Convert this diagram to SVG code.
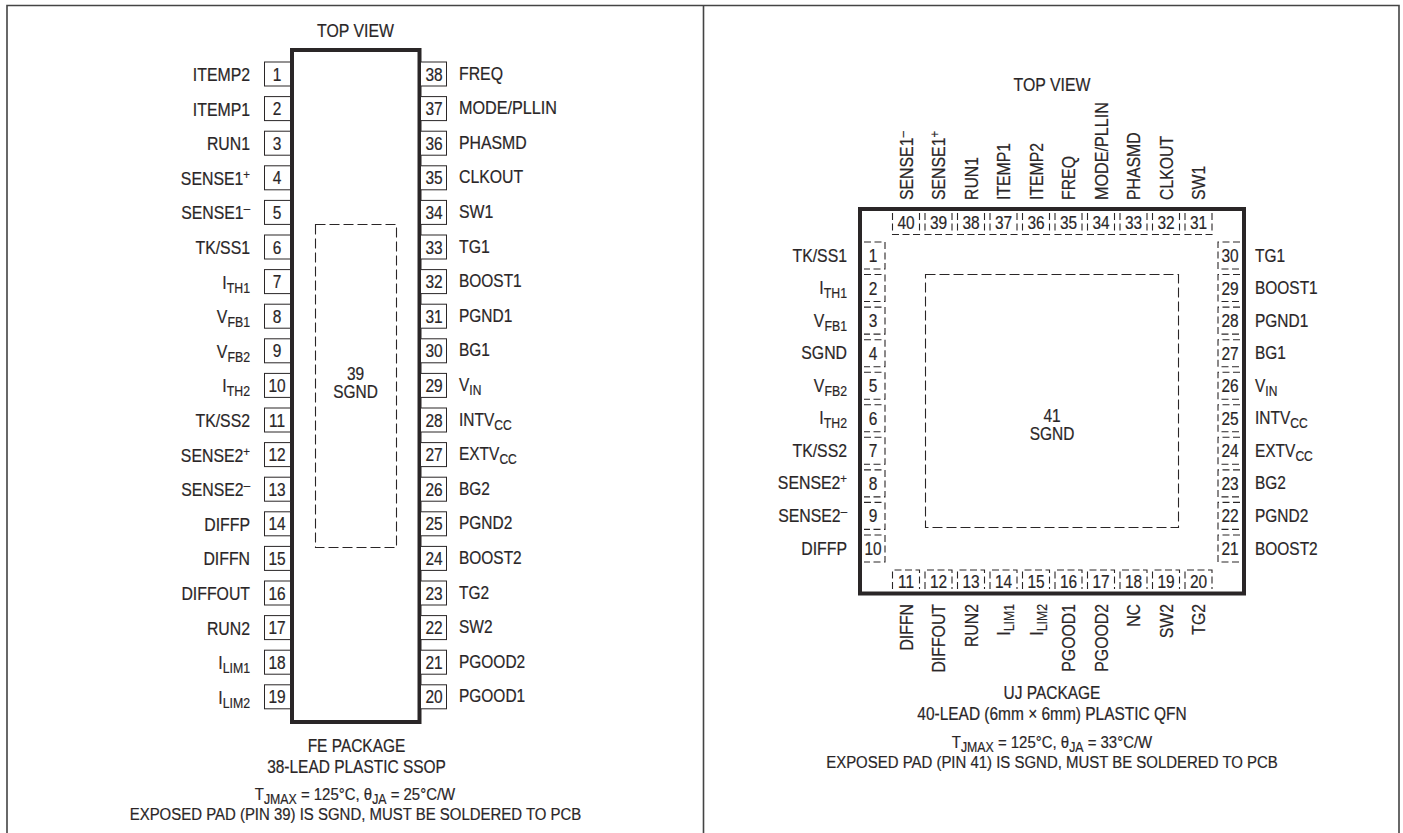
<svg xmlns="http://www.w3.org/2000/svg" width="1403" height="833" viewBox="0 0 1403 833">
<style>
text{font-family:"Liberation Sans",Arial,sans-serif;font-size:18px;fill:#2a2627;stroke:#2a2627;stroke-width:.2}
.e{text-anchor:end}.m{text-anchor:middle}
.sub{font-size:14px}.sup{font-size:13px}.f{font-size:17px}
.pin{fill:#fff;stroke:#2a2627;stroke-width:1}
.dp{fill:none;stroke:#2a2627;stroke-width:1.1;stroke-dasharray:7 3.5}
.pad{fill:none;stroke:#2a2627;stroke-width:1.1;stroke-dasharray:10 4}
.body{fill:#fff;stroke:#2a2627;stroke-width:4}
.frame{fill:none;stroke:#444;stroke-width:1.6}
</style>
<defs>
<rect id="pl" class="pin" x="264.500" y="-12" width="26" height="24"/>
<rect id="pr" class="pin" x="420.500" y="-12" width="26" height="24"/>
<path id="qt" class="dp" d="M-13.500,2V23.500H13.500V2"/>
<path id="qb" class="dp" d="M-13.500,18V-1H13.500V18"/>
<path id="ql" class="dp" d="M2,-13.500H23V13.500H2"/>
<path id="qr" class="dp" d="M-2,-13.500H-24V13.500H-2"/>
</defs>
<g id="connectors"></g>
<path class="frame" d="M7,833V5.500H1399V833M703.500,5.500V833"/>
<g id="fe-package">
<rect class="body" x="292" y="50" width="127.500" height="672"/>
<rect class="pad" x="315.500" y="224.500" width="81" height="323"/>
<text class="m" transform="translate(355.500,37) scale(.88,1)">TOP VIEW</text>
<text class="m" transform="translate(355.500,380) scale(.86,1)">39</text>
<text class="m" transform="translate(355.500,398) scale(.86,1)">SGND</text>
<text class="m" transform="translate(356.500,752) scale(.86,1)">FE PACKAGE</text>
<text class="m" transform="translate(356.500,773) scale(.86,1)">38-LEAD PLASTIC SSOP</text>
<text class="m f" transform="translate(355,799.500) scale(.88,1)">T<tspan class="sub" dy="4">JMAX</tspan><tspan dy="-4"> = 125°C, θ</tspan><tspan class="sub" dy="4">JA</tspan><tspan dy="-4"> = 25°C/W</tspan></text>
<text class="m f" transform="translate(355.500,820) scale(.88,1)">EXPOSED PAD (PIN 39) IS SGND, MUST BE SOLDERED TO PCB</text>
</g>
<g id="fe-pin-1" transform="translate(0,74)"><use href="#pl"/><text class="m" transform="translate(277,6.500) scale(.86,1)">1</text><text class="e" transform="translate(250,7) scale(.88,1)">ITEMP2</text></g>
<g id="fe-pin-2" transform="translate(0,108.600)"><use href="#pl"/><text class="m" transform="translate(277,6.500) scale(.86,1)">2</text><text class="e" transform="translate(250,7) scale(.88,1)">ITEMP1</text></g>
<g id="fe-pin-3" transform="translate(0,143.200)"><use href="#pl"/><text class="m" transform="translate(277,6.500) scale(.86,1)">3</text><text class="e" transform="translate(250,7) scale(.88,1)">RUN1</text></g>
<g id="fe-pin-4" transform="translate(0,177.800)"><use href="#pl"/><text class="m" transform="translate(277,6.500) scale(.86,1)">4</text><text class="e" transform="translate(250,7) scale(.88,1)">SENSE1<tspan class="sup" dy="-6">+</tspan></text></g>
<g id="fe-pin-5" transform="translate(0,212.400)"><use href="#pl"/><text class="m" transform="translate(277,6.500) scale(.86,1)">5</text><text class="e" transform="translate(250,7) scale(.88,1)">SENSE1<tspan class="sup" dy="-6">–</tspan></text></g>
<g id="fe-pin-6" transform="translate(0,247)"><use href="#pl"/><text class="m" transform="translate(277,6.500) scale(.86,1)">6</text><text class="e" transform="translate(250,7) scale(.88,1)">TK/SS1</text></g>
<g id="fe-pin-7" transform="translate(0,281.600)"><use href="#pl"/><text class="m" transform="translate(277,6.500) scale(.86,1)">7</text><text class="e" transform="translate(250,7) scale(.88,1)">I<tspan class="sub" dy="4">TH1</tspan></text></g>
<g id="fe-pin-8" transform="translate(0,316.200)"><use href="#pl"/><text class="m" transform="translate(277,6.500) scale(.86,1)">8</text><text class="e" transform="translate(250,7) scale(.88,1)">V<tspan class="sub" dy="4">FB1</tspan></text></g>
<g id="fe-pin-9" transform="translate(0,350.800)"><use href="#pl"/><text class="m" transform="translate(277,6.500) scale(.86,1)">9</text><text class="e" transform="translate(250,7) scale(.88,1)">V<tspan class="sub" dy="4">FB2</tspan></text></g>
<g id="fe-pin-10" transform="translate(0,385.400)"><use href="#pl"/><text class="m" transform="translate(277,6.500) scale(.86,1)">10</text><text class="e" transform="translate(250,7) scale(.88,1)">I<tspan class="sub" dy="4">TH2</tspan></text></g>
<g id="fe-pin-11" transform="translate(0,420)"><use href="#pl"/><text class="m" transform="translate(277,6.500) scale(.86,1)">11</text><text class="e" transform="translate(250,7) scale(.88,1)">TK/SS2</text></g>
<g id="fe-pin-12" transform="translate(0,454.600)"><use href="#pl"/><text class="m" transform="translate(277,6.500) scale(.86,1)">12</text><text class="e" transform="translate(250,7) scale(.88,1)">SENSE2<tspan class="sup" dy="-6">+</tspan></text></g>
<g id="fe-pin-13" transform="translate(0,489.200)"><use href="#pl"/><text class="m" transform="translate(277,6.500) scale(.86,1)">13</text><text class="e" transform="translate(250,7) scale(.88,1)">SENSE2<tspan class="sup" dy="-6">–</tspan></text></g>
<g id="fe-pin-14" transform="translate(0,523.800)"><use href="#pl"/><text class="m" transform="translate(277,6.500) scale(.86,1)">14</text><text class="e" transform="translate(250,7) scale(.88,1)">DIFFP</text></g>
<g id="fe-pin-15" transform="translate(0,558.400)"><use href="#pl"/><text class="m" transform="translate(277,6.500) scale(.86,1)">15</text><text class="e" transform="translate(250,7) scale(.88,1)">DIFFN</text></g>
<g id="fe-pin-16" transform="translate(0,593)"><use href="#pl"/><text class="m" transform="translate(277,6.500) scale(.86,1)">16</text><text class="e" transform="translate(250,7) scale(.88,1)">DIFFOUT</text></g>
<g id="fe-pin-17" transform="translate(0,627.600)"><use href="#pl"/><text class="m" transform="translate(277,6.500) scale(.86,1)">17</text><text class="e" transform="translate(250,7) scale(.88,1)">RUN2</text></g>
<g id="fe-pin-18" transform="translate(0,662.200)"><use href="#pl"/><text class="m" transform="translate(277,6.500) scale(.86,1)">18</text><text class="e" transform="translate(250,7) scale(.88,1)">I<tspan class="sub" dy="4">LIM1</tspan></text></g>
<g id="fe-pin-19" transform="translate(0,696.800)"><use href="#pl"/><text class="m" transform="translate(277,6.500) scale(.86,1)">19</text><text class="e" transform="translate(250,7) scale(.88,1)">I<tspan class="sub" dy="4">LIM2</tspan></text></g>
<g id="fe-pin-38" transform="translate(0,74)"><use href="#pr"/><text class="m" transform="translate(434,6.500) scale(.86,1)">38</text><text transform="translate(459,5.500) scale(.88,1)">FREQ</text></g>
<g id="fe-pin-37" transform="translate(0,108.600)"><use href="#pr"/><text class="m" transform="translate(434,6.500) scale(.86,1)">37</text><text transform="translate(459,5.500) scale(.9,1)">MODE/PLLIN</text></g>
<g id="fe-pin-36" transform="translate(0,143.200)"><use href="#pr"/><text class="m" transform="translate(434,6.500) scale(.86,1)">36</text><text transform="translate(459,5.500) scale(.88,1)">PHASMD</text></g>
<g id="fe-pin-35" transform="translate(0,177.800)"><use href="#pr"/><text class="m" transform="translate(434,6.500) scale(.86,1)">35</text><text transform="translate(459,5.500) scale(.88,1)">CLKOUT</text></g>
<g id="fe-pin-34" transform="translate(0,212.400)"><use href="#pr"/><text class="m" transform="translate(434,6.500) scale(.86,1)">34</text><text transform="translate(459,5.500) scale(.88,1)">SW1</text></g>
<g id="fe-pin-33" transform="translate(0,247)"><use href="#pr"/><text class="m" transform="translate(434,6.500) scale(.86,1)">33</text><text transform="translate(459,5.500) scale(.88,1)">TG1</text></g>
<g id="fe-pin-32" transform="translate(0,281.600)"><use href="#pr"/><text class="m" transform="translate(434,6.500) scale(.86,1)">32</text><text transform="translate(459,5.500) scale(.86,1)">BOOST1</text></g>
<g id="fe-pin-31" transform="translate(0,316.200)"><use href="#pr"/><text class="m" transform="translate(434,6.500) scale(.86,1)">31</text><text transform="translate(459,5.500) scale(.86,1)">PGND1</text></g>
<g id="fe-pin-30" transform="translate(0,350.800)"><use href="#pr"/><text class="m" transform="translate(434,6.500) scale(.86,1)">30</text><text transform="translate(459,5.500) scale(.86,1)">BG1</text></g>
<g id="fe-pin-29" transform="translate(0,385.400)"><use href="#pr"/><text class="m" transform="translate(434,6.500) scale(.86,1)">29</text><text transform="translate(459,5.500) scale(.86,1)">V<tspan class="sub" dy="4">IN</tspan></text></g>
<g id="fe-pin-28" transform="translate(0,420)"><use href="#pr"/><text class="m" transform="translate(434,6.500) scale(.86,1)">28</text><text transform="translate(459,5.500) scale(.86,1)">INTV<tspan class="sub" dy="4">CC</tspan></text></g>
<g id="fe-pin-27" transform="translate(0,454.600)"><use href="#pr"/><text class="m" transform="translate(434,6.500) scale(.86,1)">27</text><text transform="translate(459,5.500) scale(.86,1)">EXTV<tspan class="sub" dy="4">CC</tspan></text></g>
<g id="fe-pin-26" transform="translate(0,489.200)"><use href="#pr"/><text class="m" transform="translate(434,6.500) scale(.86,1)">26</text><text transform="translate(459,5.500) scale(.86,1)">BG2</text></g>
<g id="fe-pin-25" transform="translate(0,523.800)"><use href="#pr"/><text class="m" transform="translate(434,6.500) scale(.86,1)">25</text><text transform="translate(459,5.500) scale(.86,1)">PGND2</text></g>
<g id="fe-pin-24" transform="translate(0,558.400)"><use href="#pr"/><text class="m" transform="translate(434,6.500) scale(.86,1)">24</text><text transform="translate(459,5.500) scale(.86,1)">BOOST2</text></g>
<g id="fe-pin-23" transform="translate(0,593)"><use href="#pr"/><text class="m" transform="translate(434,6.500) scale(.86,1)">23</text><text transform="translate(459,5.500) scale(.86,1)">TG2</text></g>
<g id="fe-pin-22" transform="translate(0,627.600)"><use href="#pr"/><text class="m" transform="translate(434,6.500) scale(.86,1)">22</text><text transform="translate(459,5.500) scale(.86,1)">SW2</text></g>
<g id="fe-pin-21" transform="translate(0,662.200)"><use href="#pr"/><text class="m" transform="translate(434,6.500) scale(.86,1)">21</text><text transform="translate(459,5.500) scale(.86,1)">PGOOD2</text></g>
<g id="fe-pin-20" transform="translate(0,696.800)"><use href="#pr"/><text class="m" transform="translate(434,6.500) scale(.86,1)">20</text><text transform="translate(459,5.500) scale(.86,1)">PGOOD1</text></g>
<g id="uj-package">
<rect class="body" x="860" y="209" width="384" height="384.500"/>
<rect class="pad" x="925.500" y="274.500" width="253" height="253"/>
<text class="m" transform="translate(1052,91) scale(.88,1)">TOP VIEW</text>
<text class="m" transform="translate(1052,422) scale(.86,1)">41</text>
<text class="m" transform="translate(1052,440) scale(.86,1)">SGND</text>
<text class="m" transform="translate(1052,699) scale(.86,1)">UJ PACKAGE</text>
<text class="m" transform="translate(1052,720) scale(.86,1)">40-LEAD (6mm × 6mm) PLASTIC QFN</text>
<text class="m f" transform="translate(1052,748) scale(.88,1)">T<tspan class="sub" dy="4">JMAX</tspan><tspan dy="-4"> = 125°C, θ</tspan><tspan class="sub" dy="4">JA</tspan><tspan dy="-4"> = 33°C/W</tspan></text>
<text class="m f" transform="translate(1052,768) scale(.88,1)">EXPOSED PAD (PIN 41) IS SGND, MUST BE SOLDERED TO PCB</text>
</g>
<g id="uj-pin-1" transform="translate(0,255.500)"><use href="#ql" x="862"/><text class="m" transform="translate(873,6.500) scale(.86,1)">1</text><text class="e" transform="translate(847,6) scale(.88,1)">TK/SS1</text></g>
<g id="uj-pin-2" transform="translate(0,288)"><use href="#ql" x="862"/><text class="m" transform="translate(873,6.500) scale(.86,1)">2</text><text class="e" transform="translate(847,6) scale(.88,1)">I<tspan class="sub" dy="4">TH1</tspan></text></g>
<g id="uj-pin-3" transform="translate(0,320.600)"><use href="#ql" x="862"/><text class="m" transform="translate(873,6.500) scale(.86,1)">3</text><text class="e" transform="translate(847,6) scale(.88,1)">V<tspan class="sub" dy="4">FB1</tspan></text></g>
<g id="uj-pin-4" transform="translate(0,353.200)"><use href="#ql" x="862"/><text class="m" transform="translate(873,6.500) scale(.86,1)">4</text><text class="e" transform="translate(847,6) scale(.88,1)">SGND</text></g>
<g id="uj-pin-5" transform="translate(0,385.700)"><use href="#ql" x="862"/><text class="m" transform="translate(873,6.500) scale(.86,1)">5</text><text class="e" transform="translate(847,6) scale(.88,1)">V<tspan class="sub" dy="4">FB2</tspan></text></g>
<g id="uj-pin-6" transform="translate(0,418.300)"><use href="#ql" x="862"/><text class="m" transform="translate(873,6.500) scale(.86,1)">6</text><text class="e" transform="translate(847,6) scale(.88,1)">I<tspan class="sub" dy="4">TH2</tspan></text></g>
<g id="uj-pin-7" transform="translate(0,450.800)"><use href="#ql" x="862"/><text class="m" transform="translate(873,6.500) scale(.86,1)">7</text><text class="e" transform="translate(847,6) scale(.88,1)">TK/SS2</text></g>
<g id="uj-pin-8" transform="translate(0,483.400)"><use href="#ql" x="862"/><text class="m" transform="translate(873,6.500) scale(.86,1)">8</text><text class="e" transform="translate(847,6) scale(.88,1)">SENSE2<tspan class="sup" dy="-6">+</tspan></text></g>
<g id="uj-pin-9" transform="translate(0,515.900)"><use href="#ql" x="862"/><text class="m" transform="translate(873,6.500) scale(.86,1)">9</text><text class="e" transform="translate(847,6) scale(.88,1)">SENSE2<tspan class="sup" dy="-6">–</tspan></text></g>
<g id="uj-pin-10" transform="translate(0,548.500)"><use href="#ql" x="862"/><text class="m" transform="translate(873,6.500) scale(.86,1)">10</text><text class="e" transform="translate(847,6) scale(.88,1)">DIFFP</text></g>
<g id="uj-pin-30" transform="translate(0,255.500)"><use href="#qr" x="1242"/><text class="m" transform="translate(1230,6.500) scale(.86,1)">30</text><text transform="translate(1255,6) scale(.86,1)">TG1</text></g>
<g id="uj-pin-29" transform="translate(0,288)"><use href="#qr" x="1242"/><text class="m" transform="translate(1230,6.500) scale(.86,1)">29</text><text transform="translate(1255,6) scale(.86,1)">BOOST1</text></g>
<g id="uj-pin-28" transform="translate(0,320.600)"><use href="#qr" x="1242"/><text class="m" transform="translate(1230,6.500) scale(.86,1)">28</text><text transform="translate(1255,6) scale(.86,1)">PGND1</text></g>
<g id="uj-pin-27" transform="translate(0,353.200)"><use href="#qr" x="1242"/><text class="m" transform="translate(1230,6.500) scale(.86,1)">27</text><text transform="translate(1255,6) scale(.86,1)">BG1</text></g>
<g id="uj-pin-26" transform="translate(0,385.700)"><use href="#qr" x="1242"/><text class="m" transform="translate(1230,6.500) scale(.86,1)">26</text><text transform="translate(1255,6) scale(.86,1)">V<tspan class="sub" dy="4">IN</tspan></text></g>
<g id="uj-pin-25" transform="translate(0,418.300)"><use href="#qr" x="1242"/><text class="m" transform="translate(1230,6.500) scale(.86,1)">25</text><text transform="translate(1255,6) scale(.86,1)">INTV<tspan class="sub" dy="4">CC</tspan></text></g>
<g id="uj-pin-24" transform="translate(0,450.800)"><use href="#qr" x="1242"/><text class="m" transform="translate(1230,6.500) scale(.86,1)">24</text><text transform="translate(1255,6) scale(.86,1)">EXTV<tspan class="sub" dy="4">CC</tspan></text></g>
<g id="uj-pin-23" transform="translate(0,483.400)"><use href="#qr" x="1242"/><text class="m" transform="translate(1230,6.500) scale(.86,1)">23</text><text transform="translate(1255,6) scale(.86,1)">BG2</text></g>
<g id="uj-pin-22" transform="translate(0,515.900)"><use href="#qr" x="1242"/><text class="m" transform="translate(1230,6.500) scale(.86,1)">22</text><text transform="translate(1255,6) scale(.86,1)">PGND2</text></g>
<g id="uj-pin-21" transform="translate(0,548.500)"><use href="#qr" x="1242"/><text class="m" transform="translate(1230,6.500) scale(.86,1)">21</text><text transform="translate(1255,6) scale(.86,1)">BOOST2</text></g>
<g id="uj-pin-40" transform="translate(906,0)"><use href="#qt" y="211"/><text class="m" transform="translate(0,228.500) scale(.86,1)">40</text><text transform="translate(6.500,200) rotate(-90) scale(.88,1)">SENSE1<tspan class="sup" dy="-6">–</tspan></text></g>
<g id="uj-pin-39" transform="translate(938.500,0)"><use href="#qt" y="211"/><text class="m" transform="translate(0,228.500) scale(.86,1)">39</text><text transform="translate(6.500,200) rotate(-90) scale(.88,1)">SENSE1<tspan class="sup" dy="-6">+</tspan></text></g>
<g id="uj-pin-38" transform="translate(971,0)"><use href="#qt" y="211"/><text class="m" transform="translate(0,228.500) scale(.86,1)">38</text><text transform="translate(6.500,200) rotate(-90) scale(.88,1)">RUN1</text></g>
<g id="uj-pin-37" transform="translate(1003.500,0)"><use href="#qt" y="211"/><text class="m" transform="translate(0,228.500) scale(.86,1)">37</text><text transform="translate(6.500,200) rotate(-90) scale(.88,1)">ITEMP1</text></g>
<g id="uj-pin-36" transform="translate(1036,0)"><use href="#qt" y="211"/><text class="m" transform="translate(0,228.500) scale(.86,1)">36</text><text transform="translate(6.500,200) rotate(-90) scale(.88,1)">ITEMP2</text></g>
<g id="uj-pin-35" transform="translate(1068.500,0)"><use href="#qt" y="211"/><text class="m" transform="translate(0,228.500) scale(.86,1)">35</text><text transform="translate(6.500,200) rotate(-90) scale(.88,1)">FREQ</text></g>
<g id="uj-pin-34" transform="translate(1101,0)"><use href="#qt" y="211"/><text class="m" transform="translate(0,228.500) scale(.86,1)">34</text><text transform="translate(6.500,200) rotate(-90) scale(.9,1)">MODE/PLLIN</text></g>
<g id="uj-pin-33" transform="translate(1133.500,0)"><use href="#qt" y="211"/><text class="m" transform="translate(0,228.500) scale(.86,1)">33</text><text transform="translate(6.500,200) rotate(-90) scale(.88,1)">PHASMD</text></g>
<g id="uj-pin-32" transform="translate(1166,0)"><use href="#qt" y="211"/><text class="m" transform="translate(0,228.500) scale(.86,1)">32</text><text transform="translate(6.500,200) rotate(-90) scale(.88,1)">CLKOUT</text></g>
<g id="uj-pin-31" transform="translate(1198.500,0)"><use href="#qt" y="211"/><text class="m" transform="translate(0,228.500) scale(.86,1)">31</text><text transform="translate(6.500,200) rotate(-90) scale(.88,1)">SW1</text></g>
<g id="uj-pin-11" transform="translate(906,0)"><use href="#qb" y="571"/><text class="m" transform="translate(0,588) scale(.86,1)">11</text><text class="e" transform="translate(6.500,604) rotate(-90) scale(.88,1)">DIFFN</text></g>
<g id="uj-pin-12" transform="translate(938.500,0)"><use href="#qb" y="571"/><text class="m" transform="translate(0,588) scale(.86,1)">12</text><text class="e" transform="translate(6.500,604) rotate(-90) scale(.88,1)">DIFFOUT</text></g>
<g id="uj-pin-13" transform="translate(971,0)"><use href="#qb" y="571"/><text class="m" transform="translate(0,588) scale(.86,1)">13</text><text class="e" transform="translate(6.500,604) rotate(-90) scale(.88,1)">RUN2</text></g>
<g id="uj-pin-14" transform="translate(1003.500,0)"><use href="#qb" y="571"/><text class="m" transform="translate(0,588) scale(.86,1)">14</text><text class="e" transform="translate(6.500,604) rotate(-90) scale(.88,1)">I<tspan class="sub" dy="4">LIM1</tspan></text></g>
<g id="uj-pin-15" transform="translate(1036,0)"><use href="#qb" y="571"/><text class="m" transform="translate(0,588) scale(.86,1)">15</text><text class="e" transform="translate(6.500,604) rotate(-90) scale(.88,1)">I<tspan class="sub" dy="4">LIM2</tspan></text></g>
<g id="uj-pin-16" transform="translate(1068.500,0)"><use href="#qb" y="571"/><text class="m" transform="translate(0,588) scale(.86,1)">16</text><text class="e" transform="translate(6.500,604) rotate(-90) scale(.88,1)">PGOOD1</text></g>
<g id="uj-pin-17" transform="translate(1101,0)"><use href="#qb" y="571"/><text class="m" transform="translate(0,588) scale(.86,1)">17</text><text class="e" transform="translate(6.500,604) rotate(-90) scale(.88,1)">PGOOD2</text></g>
<g id="uj-pin-18" transform="translate(1133.500,0)"><use href="#qb" y="571"/><text class="m" transform="translate(0,588) scale(.86,1)">18</text><text class="e" transform="translate(6.500,604) rotate(-90) scale(.88,1)">NC</text></g>
<g id="uj-pin-19" transform="translate(1166,0)"><use href="#qb" y="571"/><text class="m" transform="translate(0,588) scale(.86,1)">19</text><text class="e" transform="translate(6.500,604) rotate(-90) scale(.88,1)">SW2</text></g>
<g id="uj-pin-20" transform="translate(1198.500,0)"><use href="#qb" y="571"/><text class="m" transform="translate(0,588) scale(.86,1)">20</text><text class="e" transform="translate(6.500,604) rotate(-90) scale(.88,1)">TG2</text></g>
</svg>
